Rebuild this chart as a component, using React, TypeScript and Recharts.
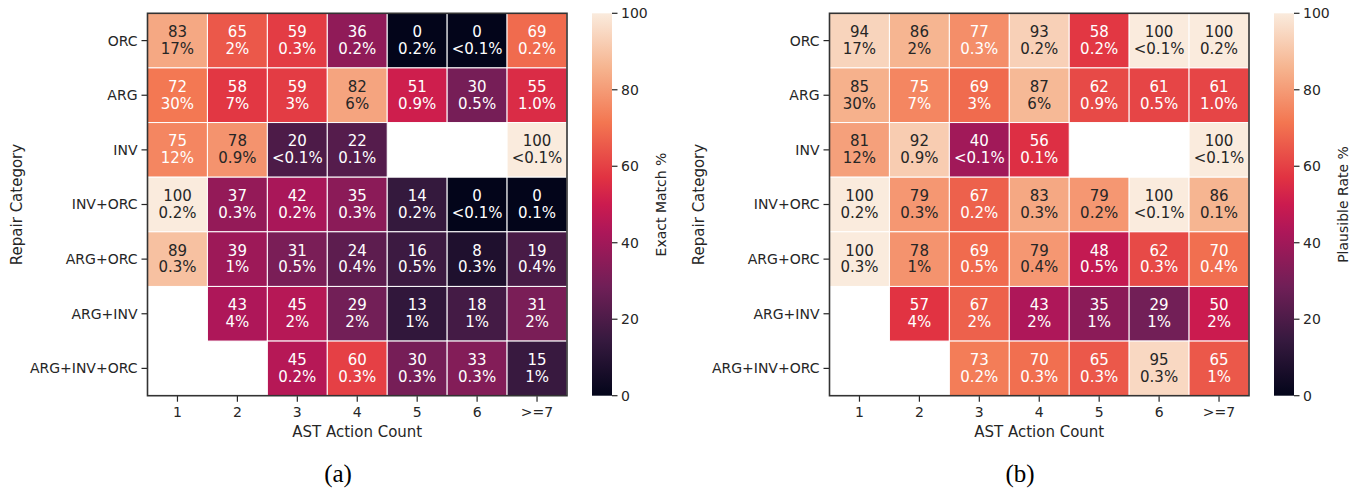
import React from 'react';
import { ScatterChart, Scatter, XAxis, YAxis } from 'recharts';

// ---------- data ----------
const rows = ['ORC', 'ARG', 'INV', 'INV+ORC', 'ARG+ORC', 'ARG+INV', 'ARG+INV+ORC'];
const cols = ['1', '2', '3', '4', '5', '6', '>=7'];

const exactMatch: (number | null)[][] = [
  [83, 65, 59, 36, 0, 0, 69],
  [72, 58, 59, 82, 51, 30, 55],
  [75, 78, 20, 22, null, null, 100],
  [100, 37, 42, 35, 14, 0, 0],
  [89, 39, 31, 24, 16, 8, 19],
  [null, 43, 45, 29, 13, 18, 31],
  [null, null, 45, 60, 30, 33, 15],
];

const plausibleRate: (number | null)[][] = [
  [94, 86, 77, 93, 58, 100, 100],
  [85, 75, 69, 87, 62, 61, 61],
  [81, 92, 40, 56, null, null, 100],
  [100, 79, 67, 83, 79, 100, 86],
  [100, 78, 69, 79, 48, 62, 70],
  [null, 57, 67, 43, 35, 29, 50],
  [null, null, 73, 70, 65, 95, 65],
];

const shares: (string | null)[][] = [
  ['17%', '2%', '0.3%', '0.2%', '0.2%', '<0.1%', '0.2%'],
  ['30%', '7%', '3%', '6%', '0.9%', '0.5%', '1.0%'],
  ['12%', '0.9%', '<0.1%', '0.1%', null, null, '<0.1%'],
  ['0.2%', '0.3%', '0.2%', '0.3%', '0.2%', '<0.1%', '0.1%'],
  ['0.3%', '1%', '0.5%', '0.4%', '0.5%', '0.3%', '0.4%'],
  [null, '4%', '2%', '2%', '1%', '1%', '2%'],
  [null, null, '0.2%', '0.3%', '0.3%', '0.3%', '1%'],
];

const cbarTicks = [0, 20, 40, 60, 80, 100];

// ---------- colormap (seaborn "rocket") ----------
const ROCKET: [number, string][] = [
  [0, '#03051A'],
  [1 / 7, '#35193E'],
  [2 / 7, '#701F57'],
  [3 / 7, '#AD1759'],
  [0.5, '#CB1B4F'],
  [4 / 7, '#E13342'],
  [5 / 7, '#F37651'],
  [6 / 7, '#F6B48F'],
  [1, '#FAEBDD'],
];

const hex2rgb = (h: string) => [
  parseInt(h.slice(1, 3), 16),
  parseInt(h.slice(3, 5), 16),
  parseInt(h.slice(5, 7), 16),
];

const rocket = (t: number): number[] => {
  const v = Math.max(0, Math.min(1, t));
  for (let i = 0; i < ROCKET.length - 1; i++) {
    const [p0, c0] = ROCKET[i];
    const [p1, c1] = ROCKET[i + 1];
    if (v >= p0 && v <= p1) {
      const f = (v - p0) / (p1 - p0);
      const a = hex2rgb(c0);
      const b = hex2rgb(c1);
      return a.map((x, k) => x + (b[k] - x) * f);
    }
  }
  return hex2rgb(ROCKET[ROCKET.length - 1][1]);
};

const rgbStr = (c: number[]) => `rgb(${c.map((x) => Math.round(x)).join(',')})`;

const luminance = (c: number[]) => {
  const lin = c.map((x) => {
    const s = x / 255;
    return s <= 0.03928 ? s / 12.92 : Math.pow((s + 0.055) / 1.055, 2.4);
  });
  return 0.2126 * lin[0] + 0.7152 * lin[1] + 0.0722 * lin[2];
};

// ---------- layout ----------
const FONT = '"DejaVu Sans", sans-serif';
const TXT = '#262626';
const PANEL_W = 676;
const H = 489;
const PANEL_OFFSET = 681.5;
const M_TOP = 13.3;
const Y_AXIS_W = 147.5;
const X_AXIS_H = 93.3;
const M_RIGHT = 109;
const PLOT_W = PANEL_W - Y_AXIS_W - M_RIGHT;
const PLOT_H = H - M_TOP - X_AXIS_H;
const CW = PLOT_W / cols.length;
const CH = PLOT_H / rows.length;

const buildCells = (vals: (number | null)[][]) => {
  const out: { x: number; y: number; v: number; share: string }[] = [];
  vals.forEach((row, r) =>
    row.forEach((v, c) => {
      if (v !== null) out.push({ x: c + 0.5, y: r + 0.5, v, share: shares[r][c] || '' });
    })
  );
  return out;
};

const CellShape = (props: any) => {
  const { cx, cy, payload } = props;
  const col = rocket(payload.v / 100);
  const tc = luminance(col) > 0.408 ? TXT : '#ffffff';
  return (
    <g>
      <rect
        x={cx - CW / 2}
        y={cy - CH / 2}
        width={CW}
        height={CH}
        fill={rgbStr(col)}
        stroke="#ffffff"
        strokeWidth={1}
      />
      <text x={cx} y={cy - 3.5} textAnchor="middle" fill={tc} fontSize={15} fontFamily={FONT}>
        {payload.v}
      </text>
      <text x={cx} y={cy + 13.3} textAnchor="middle" fill={tc} fontSize={15} fontFamily={FONT}>
        {payload.share}
      </text>
    </g>
  );
};

const centers = cols.map((_, i) => i + 0.5);
const rowCenters = rows.map((_, i) => i + 0.5);

const Overlay = ({ label, caption, gid }: { label: string; caption: string; gid: string }) => {
  const x0 = 592;
  const w = 20;
  const yOf = (v: number) => M_TOP + PLOT_H - (v / 100) * PLOT_H;
  return (
    <svg
      width={PANEL_W}
      height={H}
      style={{ position: 'absolute', left: 0, top: 0, pointerEvents: 'none' }}
    >
      <defs>
        <linearGradient id={gid} x1="0" y1="1" x2="0" y2="0">
          {ROCKET.map(([p, c]) => (
            <stop key={p} offset={`${p * 100}%`} stopColor={c} />
          ))}
        </linearGradient>
      </defs>
      {/* heatmap frame (spines) */}
      <rect
        x={Y_AXIS_W}
        y={M_TOP}
        width={PLOT_W}
        height={PLOT_H}
        fill="none"
        stroke="#333333"
        strokeWidth={1.6}
      />
      <rect x={x0} y={M_TOP} width={w} height={PLOT_H} fill={`url(#${gid})`} />
      {cbarTicks.map((t) => (
        <g key={t}>
          <line x1={x0 + w} x2={x0 + w + 5.5} y1={yOf(t)} y2={yOf(t)} stroke={TXT} strokeWidth={1.2} />
          <text x={x0 + w + 9} y={yOf(t) + 5} fill={TXT} fontSize={14} fontFamily={FONT}>
            {t}
          </text>
        </g>
      ))}
      <text
        transform={`translate(666, ${M_TOP + PLOT_H / 2}) rotate(-90)`}
        textAnchor="middle"
        fill={TXT}
        fontSize={14}
        fontFamily={FONT}
      >
        {label}
      </text>
      <text
        x={338}
        y={482}
        textAnchor="middle"
        fill="#000"
        fontSize={25}
        fontFamily='"Liberation Serif", serif'
      >
        {caption}
      </text>
    </svg>
  );
};

const Heatmap = ({
  vals,
  label,
  caption,
  gid,
}: {
  vals: (number | null)[][];
  label: string;
  caption: string;
  gid: string;
}) => {
  const data = buildCells(vals);
  return (
    <div style={{ position: 'absolute', left: 0, top: 0, width: PANEL_W, height: H }}>
      <ScatterChart
        width={PANEL_W}
        height={H}
        margin={{ top: M_TOP, right: M_RIGHT, bottom: 0, left: 0 }}
      >
        <XAxis
          type="number"
          dataKey="x"
          domain={[0, cols.length]}
          ticks={centers}
          interval={0}
          tickFormatter={(v: number) => cols[Math.floor(v)]}
          height={X_AXIS_H}
          tick={{ fill: TXT, fontSize: 14, fontFamily: FONT }}
          tickLine={{ stroke: TXT, strokeWidth: 1.2 }}
          tickSize={6}
          tickMargin={5}
          axisLine={false}
          label={{
            content: (p: any) => {
              const vb = p.viewBox || { x: Y_AXIS_W, y: M_TOP + PLOT_H, width: PLOT_W, height: X_AXIS_H };
              return (
                <text
                  x={vb.x + vb.width / 2}
                  y={vb.y + 41}
                  textAnchor="middle"
                  fill={TXT}
                  fontSize={15}
                  fontFamily={FONT}
                >
                  AST Action Count
                </text>
              );
            },
          }}
        />
        <YAxis
          type="number"
          dataKey="y"
          domain={[0, rows.length]}
          reversed
          ticks={rowCenters}
          interval={0}
          tickFormatter={(v: number) => rows[Math.floor(v)]}
          width={Y_AXIS_W}
          tick={{ fill: TXT, fontSize: 14, fontFamily: FONT }}
          tickLine={{ stroke: TXT, strokeWidth: 1.2 }}
          tickSize={6}
          tickMargin={4}
          axisLine={false}
          label={{
            content: (p: any) => {
              const vb = p.viewBox || { x: 0, y: M_TOP, width: Y_AXIS_W, height: PLOT_H };
              return (
                <text
                  transform={`translate(${vb.x + 22}, ${vb.y + vb.height / 2}) rotate(-90)`}
                  textAnchor="middle"
                  fill={TXT}
                  fontSize={15}
                  fontFamily={FONT}
                >
                  Repair Category
                </text>
              );
            },
          }}
        />
        <Scatter data={data} shape={CellShape} isAnimationActive={false} />
      </ScatterChart>
      <Overlay label={label} caption={caption} gid={gid} />
    </div>
  );
};

export default function App() {
  return (
    <div
      style={{
        position: 'absolute',
        left: 0,
        top: 0,
        width: 1353,
        height: H,
        background: '#ffffff',
        overflow: 'hidden',
      }}
    >
      <div style={{ position: 'absolute', left: 0, top: 0 }}>
        <Heatmap vals={exactMatch} label="Exact Match %" caption="(a)" gid="cbarA" />
      </div>
      <div style={{ position: 'absolute', left: PANEL_OFFSET, top: 0 }}>
        <Heatmap vals={plausibleRate} label="Plausible Rate %" caption="(b)" gid="cbarB" />
      </div>
    </div>
  );
}
